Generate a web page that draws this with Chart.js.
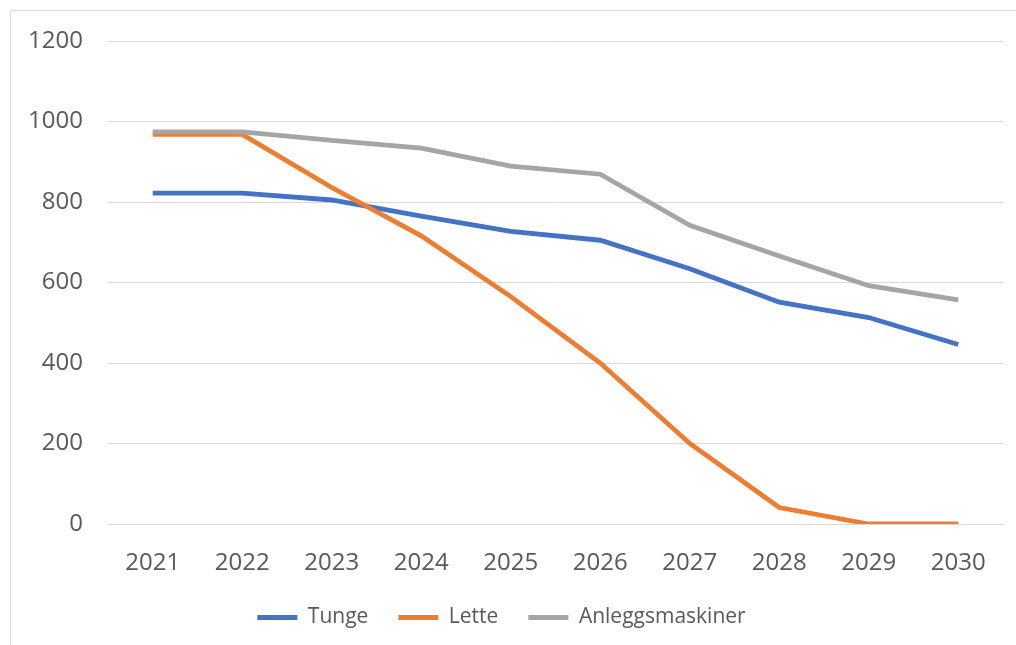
<!DOCTYPE html>
<html>
<head>
<meta charset="utf-8">
<script src="https://cdn.jsdelivr.net/npm/chart.js@4/dist/chart.umd.min.js"></script>
<style>
  body { margin: 0; background: #fff; }
  #wrap { position: absolute; left: 0; top: 0; width: 1016px; height: 645px; overflow: hidden; }
  #frame { position: absolute; left: 10px; top: 10px; width: 1020px; height: 660px; border: 1px solid #d9d9d9; }
  canvas { position: absolute; left: 0; top: 0; }
</style>
</head>
<body>
<div id="wrap">
  <div id="frame"></div>
  <canvas id="chart" width="1016" height="645"></canvas>
</div>
<script>
// data
const years = ['2021', '2022', '2023', '2024', '2025', '2026', '2027', '2028', '2029', '2030'];
const tunge = [822, 822, 805, 765, 727, 705, 634, 551, 513, 446];
const lette = [968, 968, 836, 716, 565, 400, 200, 41, 0, 0];
const anlegg = [974, 974, 953, 934, 889, 869, 742, 666, 592, 557];
const yTicks = [0, 200, 400, 600, 800, 1000, 1200];

const tickFont = { family: '"Open Sans", sans-serif', size: 24 };
const legendFont = { family: '"Open Sans", sans-serif', size: 21 };

function series(label, data, color, order) {
  return {
    label: label,
    data: data,
    borderColor: color,
    backgroundColor: color,
    borderWidth: 4.8,
    pointRadius: 0,
    tension: 0,
    order: order,
  };
}

new Chart(document.getElementById('chart'), {
  type: 'line',
  data: {
    labels: years,
    datasets: [
      series('Tunge', tunge, '#4472C4', 3),
      series('Lette', lette, '#ED7D31', 2),
      series('Anleggsmaskiner', anlegg, '#A5A5A5', 1),
    ],
  },
  options: {
    responsive: false,
    devicePixelRatio: 1,
    animation: false,
    layout: { padding: { top: 41, right: 13, bottom: 7, left: 0 } },
    plugins: {
      tooltip: { enabled: false },
      legend: {
        position: 'bottom',
        labels: {
          color: '#595959',
          font: legendFont,
          usePointStyle: true,
          pointStyle: 'line',
          pointStyleWidth: 40,
          padding: 30,
          sort: (a, b) => a.datasetIndex - b.datasetIndex,
        },
      },
    },
    scales: {
      x: {
        offset: true,
        grid: { display: false, drawTicks: false },
        border: { color: '#d9d9d9' },
        ticks: { color: '#595959', font: tickFont, padding: 25, maxRotation: 0 },
        afterFit: (scale) => { scale.height = 53; },
      },
      y: {
        min: 0,
        max: 1200,
        afterBuildTicks: (scale) => { scale.ticks = yTicks.map(v => ({ value: v })); },
        grid: { color: '#d9d9d9', lineWidth: 1, drawTicks: false },
        border: { display: false },
        ticks: { color: '#595959', font: tickFont, padding: 25, callback: (v) => String(v) },
        afterFit: (scale) => { scale.width = 108; },
      },
    },
  },
});
</script>
</body>
</html>
